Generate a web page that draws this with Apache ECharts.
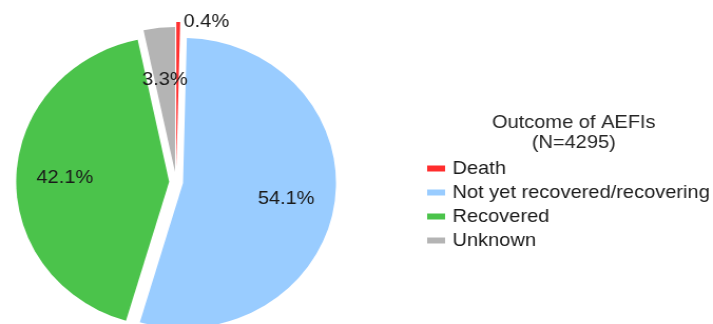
<!DOCTYPE html>
<html>
<head>
<meta charset="utf-8">
<script src="https://cdn.jsdelivr.net/npm/echarts@6/dist/echarts.min.js"></script>
<style>
  html, body { margin: 0; padding: 0; background: #ffffff; overflow: hidden; }
  #wrap { width: 713px; height: 324px; overflow: hidden; }
  /* the reference is slightly stretched horizontally */
  #chart { width: 676px; height: 324px; transform: scaleX(1.0547); transform-origin: 0 0; }
</style>
</head>
<body>
<div id="wrap"><div id="chart"></div></div>
<script>
// ---- data ----
const categories = ['Death', 'Not yet recovered/recovering', 'Recovered', 'Unknown'];
const shares = [0.4, 54.1, 42.1, 3.3];
const titleLines = ['Outcome of AEFIs', '(N=4295)'];

// ---- styles ----
const COLORS = ['#FF2D2D', '#99CCFF', '#4BC34B', '#B4B4B4'];
const OFFSETS = [15, 6.6, 6.6, 10];
const OUTSIDE = [true, false, false, false];
const LABEL_RS = [0, 96, 96, 90];
const CENTER = [167, 182];
const R = 145;
const FONT = '"Liberation Sans", Arial, sans-serif';
const TEXT = '#1a1a1a';

function pctLabel(p) { return p.value.toFixed(1) + '%'; }

const labelBase = { color: TEXT, fontSize: 19, fontFamily: FONT, textBorderWidth: 0 };

const series = [];
categories.forEach(function (name, k) {
  series.push({
    type: 'pie', name: 'slice-' + k, center: CENTER, radius: R,
    startAngle: 90, clockwise: true,
    selectedMode: 'multiple', selectedOffset: OFFSETS[k],
    avoidLabelOverlap: false, silent: true, animation: false, z: 2,
    labelLayout: { hideOverlap: false },
    data: categories.map(function (n, i) {
      return {
        name: n, value: shares[i], selected: true,
        itemStyle: { color: i === k ? COLORS[i] : 'rgba(0,0,0,0)', borderWidth: 0 },
        label: Object.assign({ show: i === k && OUTSIDE[k], position: 'outside',
          formatter: pctLabel, distanceToLabelLine: 5 }, labelBase),
        labelLine: { show: false, length: 0, length2: 0 }
      };
    })
  });
  if (!OUTSIDE[k]) {
    series.push({
      type: 'pie', name: 'label-' + k, center: CENTER, radius: LABEL_RS[k] * 2,
      startAngle: 90, clockwise: true,
      selectedMode: 'multiple', selectedOffset: OFFSETS[k],
      avoidLabelOverlap: false, silent: true, animation: false, z: 3,
      labelLayout: { hideOverlap: false },
      data: categories.map(function (n, i) {
        return {
          name: n, value: shares[i], selected: true,
          itemStyle: { color: 'rgba(0,0,0,0)', borderWidth: 0 },
          label: Object.assign({ show: i === k, position: 'inside', formatter: pctLabel }, labelBase),
          labelLine: { show: false }
        };
      })
    });
  }
});

const chart = echarts.init(document.getElementById('chart'), null, { renderer: 'canvas' });
chart.setOption({
  animation: false,
  backgroundColor: '#ffffff',
  title: {
    text: titleLines.join('\n'), left: 539, top: 108, textAlign: 'center',
    textStyle: { fontSize: 19, fontWeight: 'normal', color: '#262626', fontFamily: FONT, lineHeight: 20 }
  },
  legend: {
    orient: 'vertical', left: 400, top: 154, itemWidth: 17, itemHeight: 6, itemGap: 5,
    icon: 'rect', selectedMode: false,
    textStyle: { fontSize: 19, color: TEXT, fontFamily: FONT, lineHeight: 19, padding: [0, 0, 0, 2] },
    data: categories.map(function (n, i) { return { name: n, itemStyle: { color: COLORS[i] } }; })
  },
  series: series
});
</script>
</body>
</html>
